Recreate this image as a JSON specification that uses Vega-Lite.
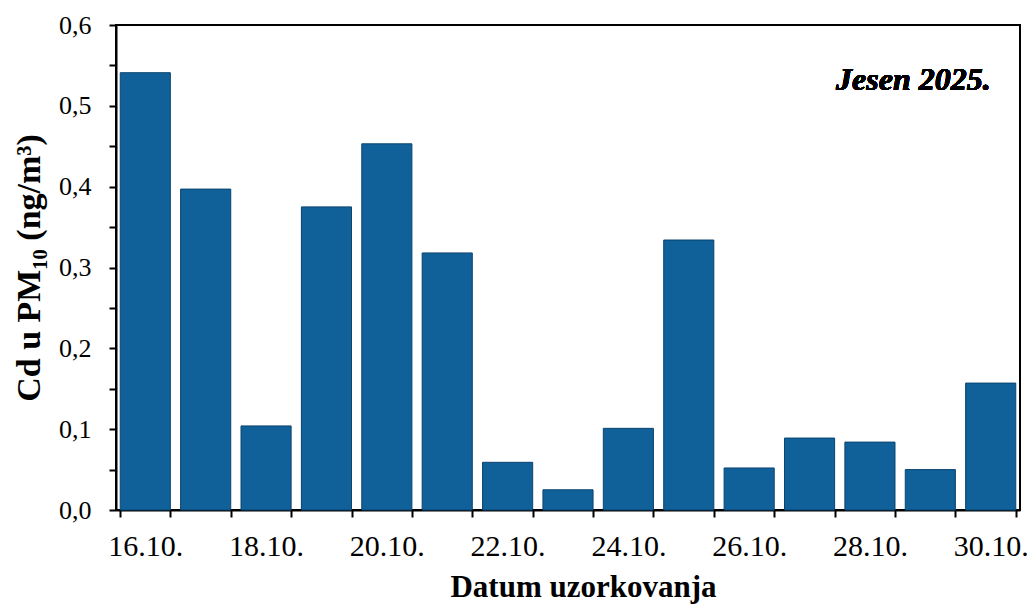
{
  "$schema": "https://vega.github.io/schema/vega-lite/v6.json",
  "width": 904,
  "height": 485,
  "autosize": {"type": "none"},
  "padding": {"left": 116, "top": 25, "right": 10, "bottom": 95},
  "background": "white",
  "config": {
    "view": {"stroke": "black", "strokeWidth": 2},
    "font": "Liberation Serif"
  },
  "data": {
    "values": [
      {"datum": "16.10.", "cd": 0.541},
      {"datum": "17.10.", "cd": 0.397},
      {"datum": "18.10.", "cd": 0.104},
      {"datum": "19.10.", "cd": 0.375},
      {"datum": "20.10.", "cd": 0.453},
      {"datum": "21.10.", "cd": 0.318},
      {"datum": "22.10.", "cd": 0.059},
      {"datum": "23.10.", "cd": 0.025},
      {"datum": "24.10.", "cd": 0.101},
      {"datum": "25.10.", "cd": 0.334},
      {"datum": "26.10.", "cd": 0.052},
      {"datum": "27.10.", "cd": 0.089},
      {"datum": "28.10.", "cd": 0.084},
      {"datum": "29.10.", "cd": 0.05},
      {"datum": "30.10.", "cd": 0.157}
    ]
  },
  "layer": [
    {
      "mark": {"type": "bar", "color": "#10609a", "stroke": "#0b4470", "strokeWidth": 1},
      "encoding": {
        "x": {
          "field": "datum",
          "type": "ordinal",
          "sort": null,
          "scale": {"paddingInner": 0.17, "paddingOuter": 0.07},
          "axis": {
            "title": "Datum uzorkovanja",
            "titleFont": "Liberation Serif",
            "titleFontSize": 31,
            "titleFontWeight": "bold",
            "titleColor": "black",
            "titlePadding": 11,
            "titleX": 467,
            "labelFont": "Liberation Serif",
            "labelFontSize": 30,
            "labelColor": "black",
            "labelAngle": 0,
            "labelOverlap": false,
            "labelPadding": 14,
            "labelExpr": "parseInt(datum.value) % 2 == 0 ? datum.label : ''",
            "tickBand": "extent",
            "tickColor": "black",
            "tickWidth": 2,
            "tickSize": 7,
            "domainColor": "black",
            "domainWidth": 2
          }
        },
        "y": {
          "field": "cd",
          "type": "quantitative",
          "scale": {"domain": [0, 0.6], "nice": false},
          "axis": {
            "title": "Cd u PM₁₀ (ng/m³)",
            "titleFont": "Liberation Serif",
            "titleFontSize": 34,
            "titleFontWeight": "bold",
            "titleColor": "black",
            "titlePadding": 12,
            "values": [0, 0.05, 0.1, 0.15, 0.2, 0.25, 0.3, 0.35, 0.4, 0.45, 0.5, 0.55, 0.6],
            "labelExpr": "round(datum.value * 20) % 2 == 0 ? replace(format(datum.value, '.1f'), '.', ',') : ''",
            "labelFont": "Liberation Serif",
            "labelFontSize": 26,
            "labelColor": "black",
            "labelPadding": 18,
            "grid": false,
            "tickColor": "black",
            "tickWidth": 2,
            "tickSize": 7,
            "domainColor": "black",
            "domainWidth": 2
          }
        }
      }
    },
    {
      "mark": {"type": "text", "text": "Jesen 2025.", "font": "Liberation Serif", "fontSize": 32, "fontWeight": "bold", "fontStyle": "italic", "align": "right", "baseline": "middle", "color": "black", "dx": 0},
      "encoding": {
        "x": {"datum": "30.10.", "type": "ordinal"},
        "y": {"datum": 0.532, "type": "quantitative"}
      }
    }
  ]
}
